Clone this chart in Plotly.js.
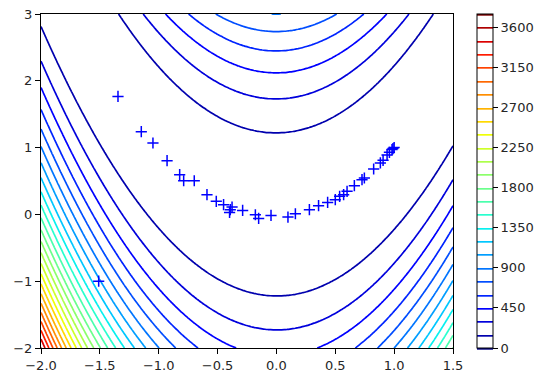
<!DOCTYPE html>
<html>
<head>
<meta charset="utf-8">
<script src="https://cdn.plot.ly/plotly-3.0.1.min.js"></script>
<style>html,body{margin:0;padding:0;background:#fff;}#plot{width:550px;height:382px;}</style>
</head>
<body>
<div id="plot"></div>
<script>
// Optimisation path
var pathX = [-1.51, -1.346, -1.148, -1.049, -0.929, -0.822, -0.788, -0.698, -0.590, -0.511, -0.449, -0.392, -0.377, -0.398, -0.287, -0.179, -0.151, -0.046, 0.098, 0.161, 0.280, 0.358, 0.435, 0.500, 0.537, 0.571, 0.600, 0.662, 0.727, 0.747, 0.826, 0.883, 0.906, 0.940, 0.960, 0.982, 0.990, 1.0];
var pathY = [-1.0, 1.766, 1.238, 1.069, 0.804, 0.594, 0.504, 0.504, 0.295, 0.195, 0.145, 0.070, 0.110, 0.030, 0.060, -0.005, -0.060, -0.015, -0.040, 0.010, 0.070, 0.130, 0.180, 0.220, 0.270, 0.295, 0.345, 0.430, 0.520, 0.545, 0.680, 0.770, 0.810, 0.890, 0.930, 0.970, 0.985, 1.0];

// Contour grid of the Rosenbrock surface
var nx = 150, ny = 200;
var xGrid = [], yGrid = [];
for (var i = 0; i < nx; i++) xGrid.push(-2 + 3.5 * i / (nx - 1));
for (var j = 0; j < ny; j++) yGrid.push(-2 + 5 * j / (ny - 1));
var zGrid = yGrid.map(function (y) {
  return xGrid.map(function (x) { return Math.pow(1 - x, 2) + 100 * Math.pow(y - x * x, 2); });
});

var levelStart = 0, levelEnd = 3750, levelStep = 150;
var colorTicks = [0, 450, 900, 1350, 1800, 2250, 2700, 3150, 3600];

// matplotlib "jet" colormap
function interp(pts, t) {
  for (var k = 1; k < pts.length; k++) {
    if (t <= pts[k][0]) {
      var a = pts[k - 1], b = pts[k];
      return a[1] + (b[1] - a[1]) * (t - a[0]) / (b[0] - a[0]);
    }
  }
  return pts[pts.length - 1][1];
}
var jr = [[0, 0], [0.35, 0], [0.66, 1], [0.89, 1], [1, 0.5]];
var jg = [[0, 0], [0.125, 0], [0.375, 1], [0.64, 1], [0.91, 0], [1, 0]];
var jb = [[0, 0.5], [0.11, 1], [0.34, 1], [0.65, 0], [1, 0]];
var jet = [];
for (var s = 0; s <= 100; s++) {
  var t = s / 100;
  jet.push([t, 'rgb(' + Math.round(255 * interp(jr, t)) + ',' + Math.round(255 * interp(jg, t)) + ',' + Math.round(255 * interp(jb, t)) + ')']);
}

var traces = [
  {
    type: 'contour', x: xGrid, y: yGrid, z: zGrid,
    zmin: levelStart, zmax: levelEnd, zauto: false,
    colorscale: jet,
    contours: {coloring: 'lines', start: levelStart, end: levelEnd, size: levelStep, showlabels: false},
    line: {width: 1.7},
    hoverinfo: 'skip',
    colorbar: {
      x: 1.059, xanchor: 'left', xpad: 0, ypad: 0,
      y: 0.5, yanchor: 'middle', len: 1, lenmode: 'fraction',
      thickness: 16, outlinewidth: 1, outlinecolor: '#000',
      tickmode: 'array', tickvals: colorTicks, ticks: 'outside', ticklen: 5, tickwidth: 1, tickcolor: '#000',
      tickfont: {family: 'DejaVu Sans', size: 13, color: '#262626'}
    }
  },
  {
    type: 'scatter', mode: 'markers', x: pathX, y: pathY,
    marker: {symbol: 'cross-thin', size: 8, color: 'blue', line: {color: 'blue', width: 1.5}},
    showlegend: false
  }
];

var axisCommon = {
  showgrid: false, zeroline: false, showline: true, linecolor: '#000', linewidth: 1, mirror: true,
  ticks: 'outside', ticklen: 5, tickwidth: 1, tickcolor: '#000',
  tickfont: {family: 'DejaVu Sans', size: 13, color: '#262626'}
};

var layout = {
  width: 550, height: 382,
  margin: {l: 41, r: 97, t: 14, b: 34, pad: 0},
  paper_bgcolor: '#fff', plot_bgcolor: '#fff',
  showlegend: false,
  xaxis: Object.assign({}, axisCommon, {range: [-2, 1.5], tickvals: [-2, -1.5, -1, -0.5, 0, 0.5, 1, 1.5], tickformat: '.1f'}),
  yaxis: Object.assign({}, axisCommon, {range: [-2, 3], tickvals: [-2, -1, 0, 1, 2, 3]})
};

Plotly.newPlot('plot', traces, layout, {displayModeBar: false, staticPlot: true});
</script>
</body>
</html>
